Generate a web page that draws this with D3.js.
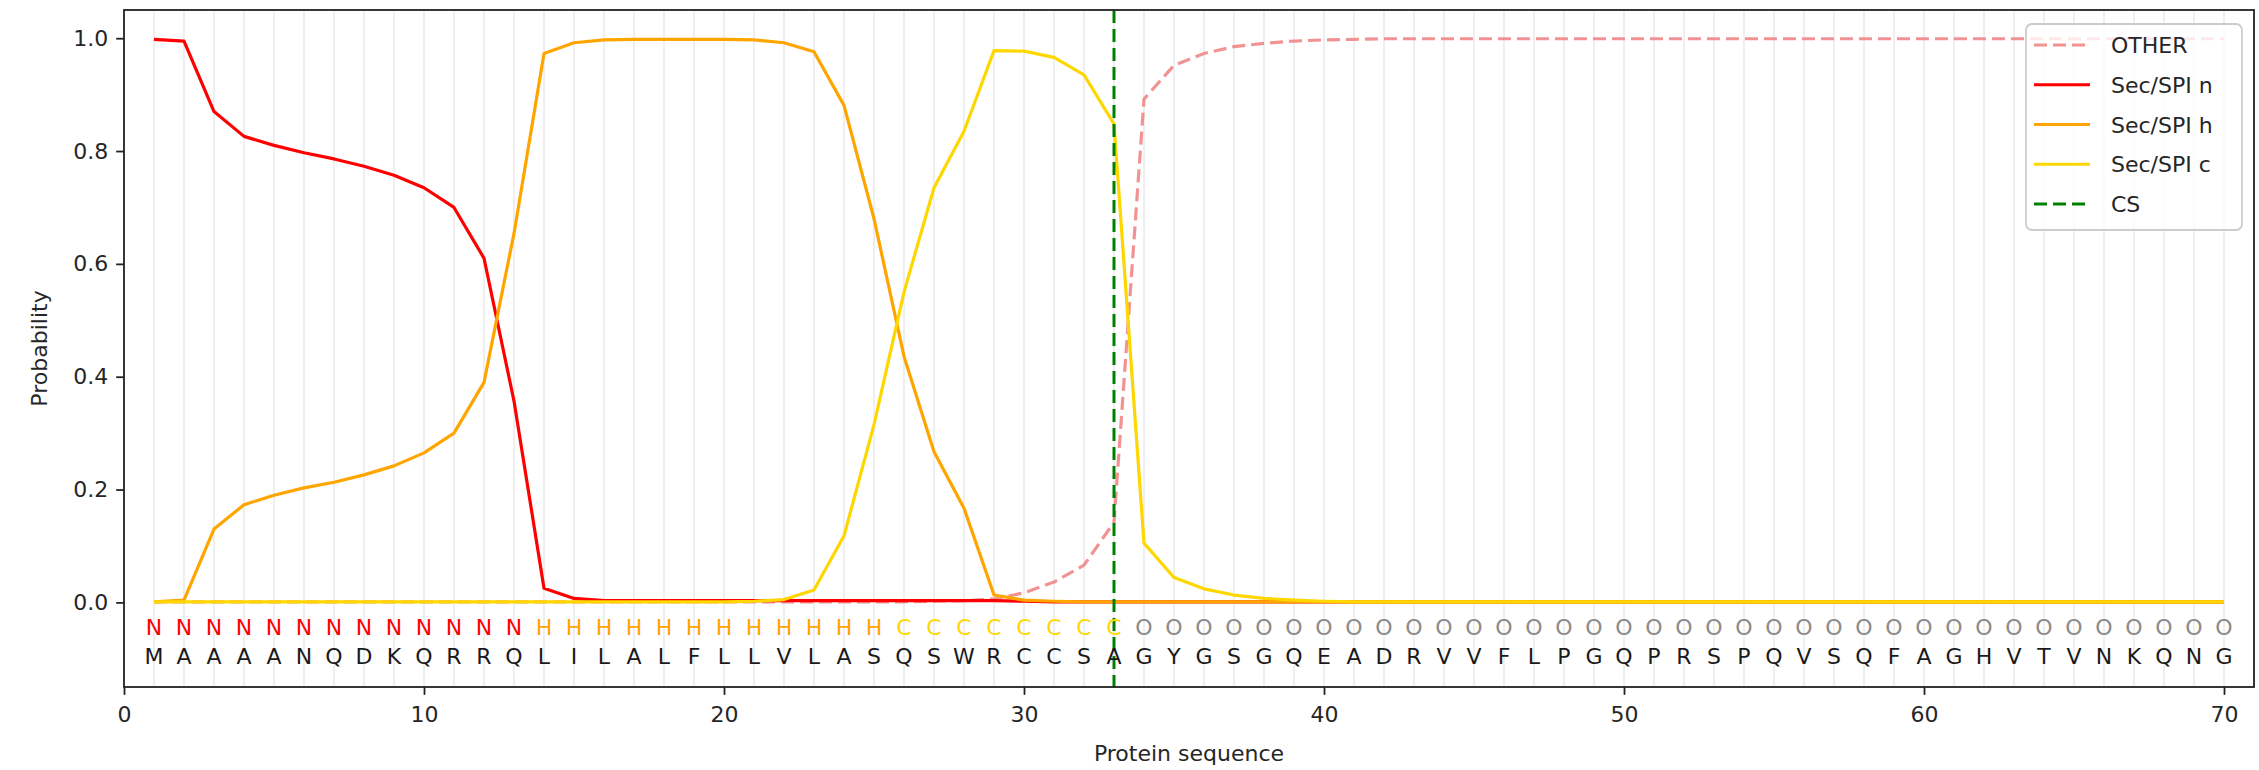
<!DOCTYPE html>
<html>
<head>
<meta charset="utf-8">
<script src="https://cdn.jsdelivr.net/npm/d3@7"></script>
<style>
  html, body { margin: 0; padding: 0; background: #fff; }
  svg { display: block; font-family: "DejaVu Sans", sans-serif; }
</style>
</head>
<body>
<svg id="chart" width="2259" height="770"></svg>
<script>
// ---------------- data ----------------
const positions = d3.range(1, 71);
const sequence = "MAAAANQDKQRRQLILALFLLVLASQSWRCCSAGYGSGQEADRVVFLPGQPRSPQVSQFAGHVTVNKQNG".split("");
const regionLabels = "NNNNNNNNNNNNNHHHHHHHHHHHHCCCCCCCCOOOOOOOOOOOOOOOOOOOOOOOOOOOOOOOOOOOOO".split("");

const otherProb = [0.001,0.001,0.001,0.001,0.001,0.001,0.001,0.001,0.001,0.001,
  0.001,0.001,0.001,0.001,0.001,0.001,0.001,0.001,0.001,0.001,
  0.001,0.001,0.001,0.001,0.001,0.001,0.002,0.003,0.006,0.017,
  0.036,0.066,0.142,0.892,0.952,0.973,0.985,0.991,0.995,0.997,
  0.998,0.999,0.999,0.999,0.999,0.999,0.999,0.999,0.999,0.999,
  0.999,0.999,0.999,0.999,0.999,0.999,0.999,0.999,0.999,0.999,
  0.999,0.999,0.999,0.999,0.999,0.999,0.999,0.999,0.999,0.999];
const secN = [0.998,0.995,0.870,0.826,0.810,0.797,0.786,0.773,0.757,0.735,
  0.700,0.610,0.357,0.025,0.007,0.003,0.003,0.003,0.003,0.003,
  0.003,0.003,0.003,0.003,0.003,0.003,0.003,0.003,0.003,0.002,
  0.001,0.001,0.001,0.001,0.001,0.001,0.001,0.001,0.001,0.001,
  0.001,0.001,0.001,0.001,0.001,0.001,0.001,0.001,0.001,0.001,
  0.001,0.001,0.001,0.001,0.001,0.001,0.001,0.001,0.001,0.001,
  0.001,0.001,0.001,0.001,0.001,0.001,0.001,0.001,0.001,0.001];
const secH = [0.001,0.004,0.130,0.173,0.190,0.203,0.213,0.226,0.242,0.265,
  0.300,0.390,0.654,0.973,0.992,0.997,0.998,0.998,0.998,0.998,
  0.997,0.992,0.976,0.881,0.680,0.436,0.267,0.167,0.013,0.004,
  0.002,0.001,0.001,0.001,0.001,0.001,0.001,0.001,0.001,0.001,
  0.001,0.001,0.001,0.001,0.001,0.001,0.001,0.001,0.001,0.001,
  0.001,0.001,0.001,0.001,0.001,0.001,0.001,0.001,0.001,0.001,
  0.001,0.001,0.001,0.001,0.001,0.001,0.001,0.001,0.001,0.001];
const secC = [0.001,0.001,0.001,0.001,0.001,0.001,0.001,0.001,0.001,0.001,
  0.001,0.001,0.001,0.001,0.001,0.001,0.001,0.001,0.001,0.001,
  0.002,0.005,0.022,0.118,0.315,0.550,0.735,0.835,0.978,0.977,
  0.966,0.935,0.848,0.105,0.044,0.024,0.013,0.007,0.004,0.002,
  0.001,0.001,0.001,0.001,0.001,0.001,0.001,0.001,0.001,0.001,
  0.001,0.001,0.001,0.001,0.001,0.001,0.001,0.001,0.001,0.001,
  0.001,0.001,0.001,0.001,0.001,0.001,0.001,0.001,0.001,0.001];
const cleavageSite = 33;
const xTicks = [0, 10, 20, 30, 40, 50, 60, 70];
const yTicks = [0.0, 0.2, 0.4, 0.6, 0.8, 1.0];
const seriesNames = ["OTHER", "Sec/SPI n", "Sec/SPI h", "Sec/SPI c", "CS"];

// ---------------- styles ----------------
const colors = { "OTHER": "#f08080", "Sec/SPI n": "#ff0000", "Sec/SPI h": "#ffa500", "Sec/SPI c": "#ffd700", "CS": "#008000" };
const labelColors = { N: "#ff0000", H: "#ffa500", C: "#ffd700", O: "#8c8c8c" };
const FS = 22;

const svg = d3.select("#chart");
const mLeft = 124, mRight = 2254, mTop = 10, mBottom = 687;
const x = d3.scaleLinear().domain([0, 71]).range([mLeft, mRight]);
const y = d3.scaleLinear().domain([-0.15, 1.05]).range([mBottom, mTop]);

// vertical faint gridlines at every residue
svg.append("g").selectAll("line").data(positions).join("line")
  .attr("x1", d => x(d)).attr("x2", d => x(d))
  .attr("y1", mTop).attr("y2", mBottom)
  .attr("stroke", "#d3d3d3").attr("stroke-opacity", 0.45).attr("stroke-width", 1.6);

// lines
const line = d3.line().x((d, i) => x(positions[i])).y(d => y(d));
const series = [
  { name: "OTHER", values: otherProb, dash: "13,6", opacity: 0.85 },
  { name: "Sec/SPI n", values: secN, dash: null, opacity: 1 },
  { name: "Sec/SPI h", values: secH, dash: null, opacity: 1 },
  { name: "Sec/SPI c", values: secC, dash: null, opacity: 1 }
];
series.forEach(s => {
  svg.append("path").datum(s.values)
    .attr("d", line)
    .attr("fill", "none")
    .attr("stroke", colors[s.name])
    .attr("stroke-opacity", s.opacity)
    .attr("stroke-width", 3.2)
    .attr("stroke-linejoin", "round")
    .attr("stroke-dasharray", s.dash);
});

// cleavage site
svg.append("line")
  .attr("x1", x(cleavageSite)).attr("x2", x(cleavageSite))
  .attr("y1", mTop).attr("y2", mBottom)
  .attr("stroke", colors["CS"]).attr("stroke-width", 3)
  .attr("stroke-dasharray", "13,6");

// residue labels
svg.append("g").selectAll("text").data(regionLabels).join("text")
  .attr("x", (d, i) => x(positions[i]))
  .attr("y", 635)
  .attr("text-anchor", "middle")
  .attr("font-size", FS)
  .attr("fill", d => labelColors[d])
  .text(d => d);
svg.append("g").selectAll("text").data(sequence).join("text")
  .attr("x", (d, i) => x(positions[i]))
  .attr("y", 664)
  .attr("text-anchor", "middle")
  .attr("font-size", FS)
  .attr("fill", "#1a1a1a")
  .text(d => d);

// axes
const xAxis = svg.append("g").attr("transform", `translate(0,${mBottom})`)
  .call(d3.axisBottom(x).tickValues(xTicks).tickSize(7.8).tickPadding(12).tickSizeOuter(0));
const yAxis = svg.append("g").attr("transform", `translate(${mLeft},0)`)
  .call(d3.axisLeft(y).tickValues(yTicks).tickFormat(d3.format(".1f")).tickSize(7.8).tickPadding(8).tickSizeOuter(0));
[xAxis, yAxis].forEach(a => {
  a.selectAll("text").attr("font-size", FS).attr("font-family", "DejaVu Sans").attr("fill", "#262626");
  a.selectAll("line").attr("stroke", "#222").attr("stroke-width", 1.8);
  a.select(".domain").remove();
});

// frame
svg.append("rect").attr("x", mLeft).attr("y", mTop)
  .attr("width", mRight - mLeft).attr("height", mBottom - mTop)
  .attr("fill", "none").attr("stroke", "#222").attr("stroke-width", 1.8);

// axis labels
svg.append("text").attr("x", (mLeft + mRight) / 2).attr("y", 761)
  .attr("text-anchor", "middle").attr("font-size", FS).attr("fill", "#262626")
  .text("Protein sequence");
svg.append("text").attr("transform", `translate(47,${(mTop + mBottom) / 2}) rotate(-90)`)
  .attr("text-anchor", "middle").attr("font-size", FS).attr("fill", "#262626")
  .text("Probability");

// legend
const lg = svg.append("g");
lg.append("rect").attr("x", 2026).attr("y", 24).attr("width", 216).attr("height", 206)
  .attr("rx", 6).attr("fill", "#fff").attr("fill-opacity", 0.8)
  .attr("stroke", "#cccccc").attr("stroke-width", 1.8);
const legendY = d3.scalePoint().domain(seriesNames).range([45, 204]);
seriesNames.forEach(n => {
  const yy = legendY(n);
  lg.append("line").attr("x1", 2034).attr("x2", 2090).attr("y1", yy).attr("y2", yy)
    .attr("stroke", colors[n]).attr("stroke-width", 3.2)
    .attr("stroke-opacity", n === "OTHER" ? 0.85 : 1)
    .attr("stroke-dasharray", (n === "OTHER" || n === "CS") ? "13,6" : null);
  lg.append("text").attr("x", 2111).attr("y", yy + 8).attr("font-size", FS)
    .attr("fill", "#262626").text(n);
});
</script>
</body>
</html>
